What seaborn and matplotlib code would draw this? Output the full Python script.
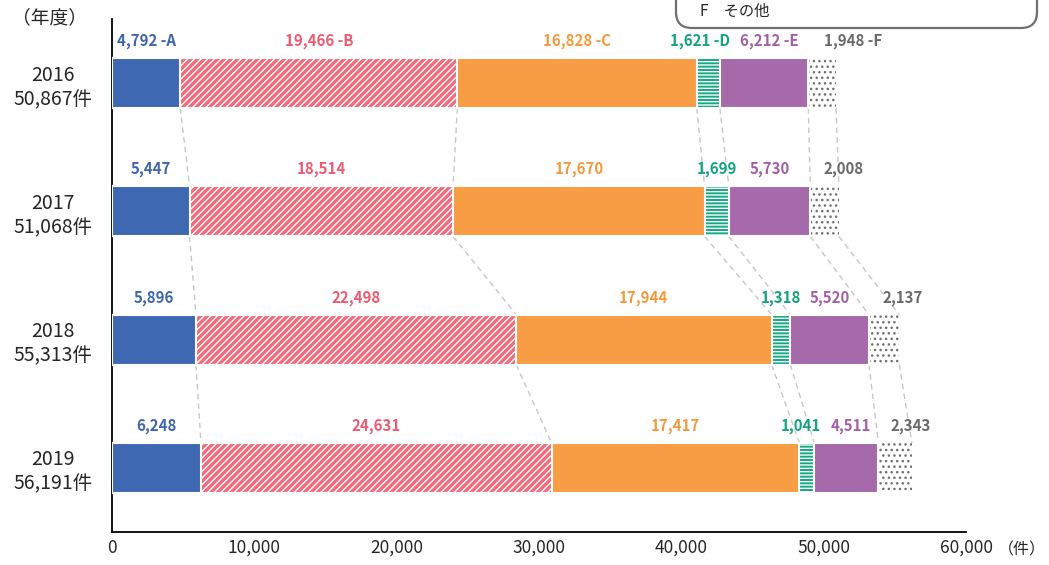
import seaborn as sns
import matplotlib.pyplot as plt
import numpy as np
import pandas as pd
from matplotlib.patches import FancyBboxPatch
from matplotlib.transforms import IdentityTransform

# data
years = ['2016', '2017', '2018', '2019']
totals = ['50,867', '51,068', '55,313', '56,191']
seg_a = [4792, 5447, 5896, 6248]
seg_b = [19466, 18514, 22498, 24631]
seg_c = [16828, 17670, 17944, 17417]
seg_d = [1621, 1699, 1318, 1041]
seg_e = [6212, 5730, 5520, 4511]
seg_f = [1948, 2008, 2137, 2343]
seg_names = ['A', 'B', 'C', 'D', 'E', 'F']
x_ticks = [0, 10000, 20000, 30000, 40000, 50000, 60000]

sns.set_style('white')
plt.rcParams['font.family'] = ['Noto Sans CJK JP', 'DejaVu Sans']
plt.rcParams['hatch.linewidth'] = 1.0

cats = [f'{y}\n{t}件' for y, t in zip(years, totals)]
segs = np.array([seg_a, seg_b, seg_c, seg_d, seg_e, seg_f])
cum = segs.cumsum(axis=0)

# facecolor, edge/hatch colour, hatch, label colour
styles = [
    ('#3F68B3', 'white', None, '#3F65B0'),
    ('#F26A7B', 'white', '/////', '#EE5A6F'),
    ('#F89D43', 'white', None, '#F59A3C'),
    ('#16A883', 'white', '-----', '#14A37E'),
    ('#A66AAA', 'white', None, '#A45EA8'),
    ('white', '#707070', '...', '#6A6A6A'),
]

fig = plt.figure(figsize=(10.49, 5.65), dpi=100)
ax = fig.add_axes([0.1068, 0.0584, 0.8141, 0.908])

h = 0.39
# draw cumulative bars from widest to narrowest so they stack visually
for k in range(5, -1, -1):
    fc, ec, hatch, _ = styles[k]
    df = pd.DataFrame({'year': cats, 'value': cum[k]})
    lw = 0 if k == 5 else 1.5
    sns.barplot(data=df, x='value', y='year', orient='h', ax=ax, color=fc,
                saturation=1, width=h, edgecolor=ec, linewidth=lw,
                hatch=hatch, zorder=3)

# dashed connectors between years
for i in range(len(years) - 1):
    for k in range(6):
        ax.plot([cum[k][i], cum[k][i + 1]], [i + h / 2, i + 1 - h / 2],
                color='#C8C8C8', lw=1, ls=(0, (4, 3)), zorder=1)

# small nudges so neighbouring labels don't collide
nudge = {(0, 3): -600, (0, 4): 400, (0, 5): 2200, (1, 5): 1300,
         (2, 5): 1300, (3, 5): 1100, (3, 3): -400, (3, 4): 300}

# value labels
for i in range(len(years)):
    for k in range(6):
        left = cum[k][i] - segs[k][i]
        xc = left + segs[k][i] / 2 + nudge.get((i, k), 0)
        txt = f'{segs[k][i]:,}'
        if i == 0:
            txt += f' -{seg_names[k]}'
        ax.text(xc, i - h / 2 - 0.07, txt, ha='center', va='bottom',
                fontsize=10.8, fontweight='bold', color=styles[k][3], zorder=4)

ax.set_xlim(0, 60000)
ax.set_ylim(3.5, -0.5)
ax.set_xticks(x_ticks)
ax.set_xticklabels([f'{v:,}' for v in x_ticks], fontsize=12.5)
ax.tick_params(axis='x', direction='in', length=6, width=1, pad=5, color='black')
ax.tick_params(axis='y', length=0, pad=14, labelsize=14)
for t in ax.get_yticklabels():
    t.set_multialignment('center')
    t.set_linespacing(1.2)
ax.set_xlabel('')
ax.set_ylabel('')
for s in ['top', 'right']:
    ax.spines[s].set_visible(False)
for s in ['left', 'bottom']:
    ax.spines[s].set_color('black')
    ax.spines[s].set_linewidth(1.3)

fig.text(1046 / 1049, 1 - 550 / 565, '（件）', ha='right', va='center', fontsize=11.5)
fig.text(12 / 1049, 1 - 18 / 565, '（年度）', ha='left', va='center', fontsize=13.5)

# partial legend box at top right
box = FancyBboxPatch((676, 537), 361, 80, boxstyle='round,pad=0,rounding_size=16',
                     transform=IdentityTransform(), facecolor='white',
                     edgecolor='#707070', lw=1.6)
fig.add_artist(box)
fig.text(700 / 1049, 1 - 11 / 565, 'F　その他', ha='left', va='center', fontsize=11)

fig.savefig('out.png', dpi=100)
